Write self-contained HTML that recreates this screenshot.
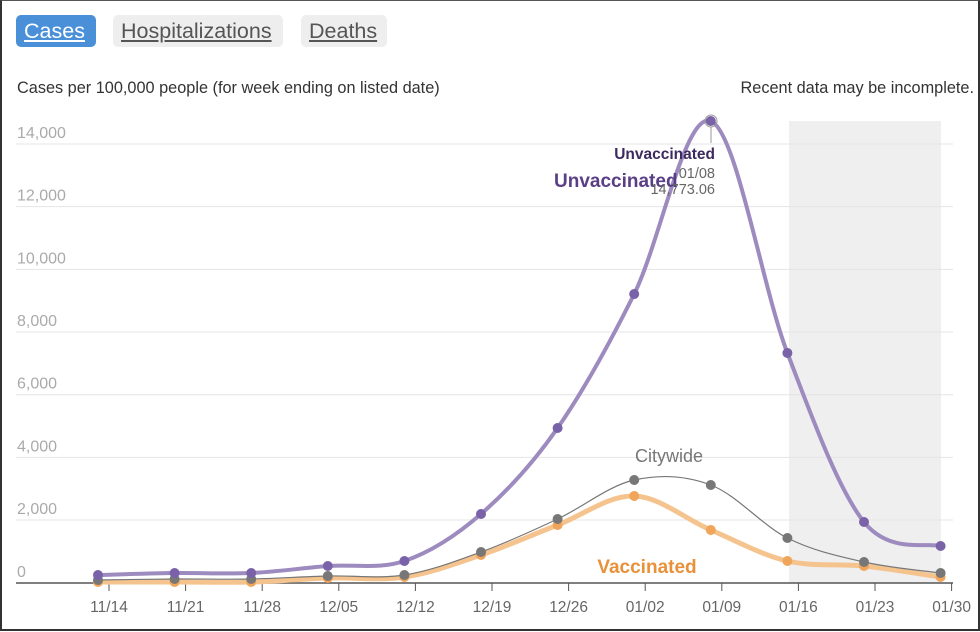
<!DOCTYPE html>
<html><head><meta charset="utf-8"><style>
html,body{margin:0;padding:0;background:#fff;}
body{width:980px;height:632px;overflow:hidden;position:relative;font-family:"Liberation Sans",Arial,sans-serif;}
.frame{position:absolute;left:0;top:0;width:976px;height:628px;border:2px solid #333;border-top:1px solid #555;}
.btn{position:absolute;top:15px;height:32px;border-radius:5px;font-size:21.5px;line-height:32px;text-decoration:underline;padding:0 8px;box-sizing:border-box;white-space:nowrap;}
</style></head><body>
<div class="frame"></div>
<div class="btn" style="left:16px;width:80px;background:#4a90d9;color:#fff;">Cases</div>
<div class="btn" style="left:113px;width:170px;background:#eee;color:#555;">Hospitalizations</div>
<div class="btn" style="left:301px;width:86px;background:#eee;color:#555;">Deaths</div>
<svg id="s" width="980" height="632" style="position:absolute;left:0;top:0" xmlns="http://www.w3.org/2000/svg" font-family="Liberation Sans, Arial, sans-serif">
<text x="17" y="93" font-size="16.3" fill="#333">Cases per 100,000 people (for week ending on listed date)</text>
<text x="974" y="93" font-size="16.3" fill="#333" text-anchor="end">Recent data may be incomplete.</text>
<rect x="789" y="121" width="152" height="462" fill="#efefef"/>
<g id="grid" stroke="#e4e4e4" stroke-width="1"></g>
<g id="ylab" font-size="16" fill="#aaa"></g>
<line x1="16" y1="583" x2="953" y2="583" stroke="#555" stroke-width="1.5"/>
<g id="xt" font-size="15.5" fill="#666"></g>
<g id="series"></g>
<circle cx="711" cy="121" r="6" fill="none" stroke="#999" stroke-width="1"/>
<line x1="711" y1="127" x2="711" y2="143" stroke="#999"/>
<text x="715" y="159" font-size="15.5" font-weight="bold" fill="#3d2a5e" text-anchor="end">Unvaccinated</text>
<text x="554" y="187" font-size="19" font-weight="bold" fill="#5a3f86">Unvaccinated</text>
<text x="715" y="178" font-size="14.5" fill="#666" text-anchor="end">01/08</text>
<text x="715" y="194" font-size="14.5" fill="#666" text-anchor="end">14,773.06</text>
<text x="669" y="462" font-size="18" fill="#777" text-anchor="middle">Citywide</text>
<text x="647" y="573" font-size="19" font-weight="bold" fill="#e8913a" text-anchor="middle">Vaccinated</text>
</svg>
<script>
var NS="http://www.w3.org/2000/svg";
function el(t,a,p){var e=document.createElementNS(NS,t);for(var k in a)e.setAttribute(k,a[k]);p.appendChild(e);return e;}
var g=document.getElementById('grid'),yl=document.getElementById('ylab'),xt=document.getElementById('xt'),se=document.getElementById('series');
for(var i=1;i<=7;i++){var y=582.7-i*62.67;el('line',{x1:16,x2:953,y1:y,y2:y},g);var t=el('text',{x:17,y:y-6},yl);t.textContent=(i*2000).toLocaleString('en-US');}
var t0=el('text',{x:17,y:577},yl);t0.textContent='0';
var labs=['11/14','11/21','11/28','12/05','12/12','12/19','12/26','01/02','01/09','01/16','01/23','01/30'];
for(var i=0;i<12;i++){var x=109+i*76.6;el('line',{x1:x,x2:x,y1:583,y2:591,stroke:'#555'},xt);var t=el('text',{x:x,y:612,'text-anchor':'middle'},xt);t.textContent=labs[i];}
var xs=[];for(var i=0;i<12;i++)xs.push(98+i*76.6);
function path(ys){var p=xs.map(function(x,i){return [x,ys[i]];});var d='M'+p[0][0]+','+p[0][1];
for(var i=0;i<p.length-1;i++){var p0=p[Math.max(0,i-1)],p1=p[i],p2=p[i+1],p3=p[Math.min(p.length-1,i+2)];
d+=' C'+(p1[0]+(p2[0]-p0[0])/6)+','+(p1[1]+(p2[1]-p0[1])/6)+' '+(p2[0]-(p3[0]-p1[0])/6)+','+(p2[1]-(p3[1]-p1[1])/6)+' '+p2[0]+','+p2[1];}return d;}
var vac=[582,582,582,578,577,555,525,496,530,561,566,577];
var city=[580,579,579,576,575,552,519,480,485,538,562,573];
var unv=[575,573,573,566,561,514,428,294,121,353,522,546];
el('path',{d:path(vac),fill:'none',stroke:'#f5c48e',"stroke-width":5},se);
xs.forEach(function(x,i){el('circle',{cx:x,cy:vac[i],r:5,fill:'#f0a55a'},se);});
el('path',{d:path(city),fill:'none',stroke:'#777',"stroke-width":1.2},se);
xs.forEach(function(x,i){el('circle',{cx:x,cy:city[i],r:5,fill:'#777'},se);});
el('path',{d:path(unv),fill:'none',stroke:'#9d8bbf',"stroke-width":4},se);
xs.forEach(function(x,i){el('circle',{cx:x,cy:unv[i],r:5,fill:'#7a62a8'},se);});
</script>
</body></html>
